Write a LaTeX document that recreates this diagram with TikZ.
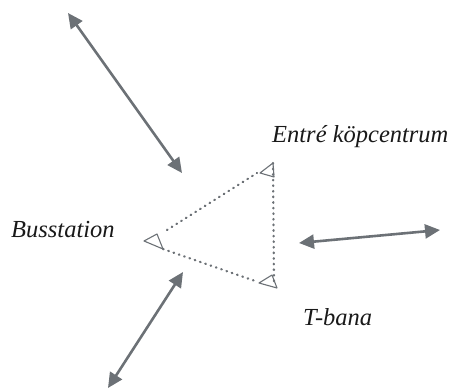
\documentclass[tikz,border=0pt]{standalone}
\usepackage{fontspec}
\newfontfamily\lblfont{Liberation Serif}
\usetikzlibrary{arrows.meta}
\definecolor{arrgray}{RGB}{108,113,118}
\definecolor{txtgray}{RGB}{25,25,25}
\tikzset{
  dblarrow/.style={draw=arrgray, line width=2.6pt,
    {Triangle[length=15pt,width=14pt]}-{Triangle[length=15pt,width=14pt]}},
  dotline/.style={draw=arrgray, line width=2.3pt, line cap=round, dash pattern=on 0.6pt off 5pt},
  marker/.style={draw=arrgray, line width=1.1pt, line join=round},
  lbl/.style={inner sep=0pt, text=txtgray, font=\lblfont\itshape\fontsize{24.5}{28}\selectfont}
}
\begin{document}
\begin{tikzpicture}[x=1pt,y=-1pt]
\useasboundingbox (0,0) rectangle (452,390);
% labels
\node[lbl, anchor=base west] (entre) at (272,143) {Entré köpcentrum};
\node[lbl, anchor=base west] (buss) at (11,237) {Busstation};
\node[lbl, anchor=base west] (tbana) at (303,325) {T-bana};
% double arrows
\coordinate (a1) at (68,13);
\coordinate (a2) at (182,173);
\coordinate (b1) at (299,243);
\coordinate (b2) at (440,230);
\coordinate (c1) at (183,272);
\coordinate (c2) at (108,388);
\draw[dblarrow] (a1) -- (a2);
\draw[dblarrow] (b1) -- (b2);
\draw[dblarrow] (c1) -- (c2);
% dotted triangle
\coordinate (u1) at (167,230);
\coordinate (u2) at (257,173);
\coordinate (l1) at (163,249);
\coordinate (l2) at (258,282);
\coordinate (v1) at (273,163);
\coordinate (v2) at (274,283);
\draw[dotline] (u1) -- (u2);
\draw[dotline] (l1) -- (l2);
\draw[dotline] (v1) -- (v2);
% open triangle markers
\draw[marker] (273,163) -- (260,173) -- (274,177) -- cycle;
\draw[marker] (144,241) -- (157,234) -- (163,249) -- cycle;
\draw[marker] (259,283) -- (272,275) -- (277,288) -- cycle;
\end{tikzpicture}
\end{document}
